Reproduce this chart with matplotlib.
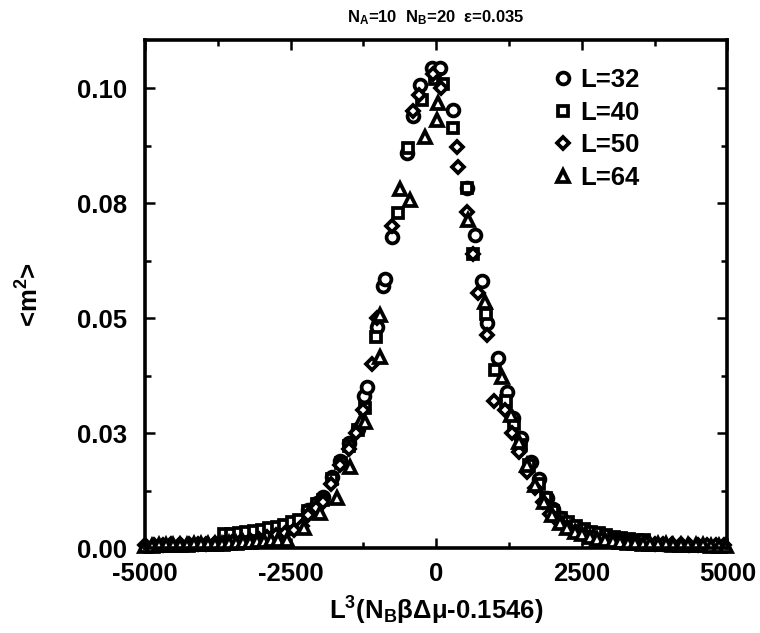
import numpy as np
import matplotlib
matplotlib.use("Agg")
import matplotlib.pyplot as plt

plt.rcParams['font.family'] = ['Liberation Sans', 'DejaVu Sans']
plt.rcParams['font.weight'] = 'bold'
plt.rcParams['axes.labelweight'] = 'bold'
plt.rcParams['axes.titleweight'] = 'bold'
plt.rcParams['axes.unicode_minus'] = False
plt.rcParams['mathtext.fontset'] = 'custom'
plt.rcParams['mathtext.rm'] = 'Liberation Sans:bold'
plt.rcParams['mathtext.bf'] = 'Liberation Sans:bold'
plt.rcParams['mathtext.default'] = 'bf'

# L=32 (circles)
x32 = [-3500, -3350, -3200, -3050, -2900, -2750, -2600, -2450, -2350, -2200,
       -2050, -1940, -1790, -1650, -1490, -1350, -1240, -1190, -1020, -910,
       -880, -760, -500, -400, -275, -70, 70, 290, 530, 670,
       790, 870, 1060, 1220, 1320, 1450, 1620, 1760, 1900, 2010,
       2150, 2300, 2450, 2600, 2750, 2900, 3050, 3200, 3350, 3500]
y32 = [0.0020, 0.0022, 0.0025, 0.0028, 0.0032, 0.0038, 0.0045, 0.0053, 0.0060, 0.0083,
       0.0098, 0.0112, 0.0154, 0.0190, 0.0228, 0.0258, 0.0330, 0.0350, 0.0480, 0.0570,
       0.0585, 0.0676, 0.0860, 0.0940, 0.1006, 0.1043, 0.1043, 0.0952, 0.0783, 0.0680,
       0.0580, 0.0490, 0.0413, 0.0340, 0.0283, 0.0240, 0.0187, 0.0150, 0.0110, 0.0085,
       0.0065, 0.0050, 0.0042, 0.0035, 0.0030, 0.0026, 0.0023, 0.0020, 0.0018, 0.0016]

# L=40 (squares)
x40 = [-3650, -3520, -3390, -3260, -3130, -3000, -2870, -2740, -2610, -2480,
       -2350, -2200, -2050, -1940, -1790, -1640, -1500, -1350, -1230, -1030,
       -650, -490, -240, -20, 120, 290, 530, 640, 850, 1010,
       1200, 1340, 1460, 1600, 1760, 1880, 2010, 2140, 2270, 2400,
       2530, 2660, 2790, 2920, 3050, 3180, 3310, 3440, 3570]
y40 = [0.0030, 0.0031, 0.0033, 0.0035, 0.0037, 0.0040, 0.0043, 0.0047, 0.0051, 0.0056,
       0.0062, 0.0080, 0.0095, 0.0105, 0.0150, 0.0185, 0.0222, 0.0256, 0.0305, 0.0460,
       0.0728, 0.0870, 0.0974, 0.1020, 0.1010, 0.0913, 0.0783, 0.0640, 0.0510, 0.0387,
       0.0320, 0.0270, 0.0225, 0.0180, 0.0140, 0.0110, 0.0080, 0.0066, 0.0056, 0.0048,
       0.0042, 0.0036, 0.0032, 0.0028, 0.0025, 0.0022, 0.0020, 0.0018, 0.0017]

# L=50 (diamonds)
x50 = [-5000, -4850, -4700, -4550, -4400, -4250, -4100, -3950, -3800, -3650,
       -3500, -3350, -3200, -3050, -2900, -2750, -2600, -2450, -2300, -2200,
       -2060, -1940, -1800, -1650, -1500, -1380, -1250, -1110, -1020, -760,
       -400, -290, -60, 90, 360, 380, 530, 640, 720, 880,
       1000, 1180, 1300, 1420, 1560, 1700, 1830, 1960, 2100, 2250,
       2400, 2550, 2700, 2850, 3000, 3150, 3300, 3450, 3600, 3750,
       3900, 4050, 4200, 4350, 4500, 4650, 4800, 4950]
y50 = [0.0006, 0.0007, 0.0007, 0.0008, 0.0008, 0.0009, 0.0010, 0.0010, 0.0011, 0.0012,
       0.0014, 0.0016, 0.0018, 0.0021, 0.0024, 0.0028, 0.0033, 0.0040, 0.0048, 0.0072,
       0.0088, 0.0100, 0.0140, 0.0180, 0.0215, 0.0250, 0.0300, 0.0400, 0.0500, 0.0700,
       0.0950, 0.0985, 0.1030, 0.1000, 0.0872, 0.0828, 0.0730, 0.0640, 0.0554, 0.0463,
       0.0320, 0.0300, 0.0250, 0.0210, 0.0165, 0.0130, 0.0100, 0.0075, 0.0058, 0.0045,
       0.0036, 0.0029, 0.0024, 0.0020, 0.0017, 0.0015, 0.0013, 0.0012, 0.0011, 0.0010,
       0.0009, 0.0008, 0.0008, 0.0007, 0.0007, 0.0006, 0.0006, 0.0006]

# L=64 (triangles)
x64 = [-5000, -4880, -4760, -4640, -4520, -4400, -4280, -4160, -4040, -3920,
       -3800, -3680, -3560, -3440, -3320, -3200, -3080, -2960, -2840, -2720,
       -2560, -2280, -1990, -1700, -1480, -1300, -1220, -960, -960, -620,
       -450, -190, 25, 20, 550, 840, 1130, 1280, 1420, 1560,
       1700, 1850, 1990, 2120, 2250, 2380, 2510, 2640, 2770, 2900,
       3030, 3160, 3290, 3420, 3550, 3680, 3810, 3940, 4070, 4200,
       4330, 4460, 4590, 4720, 4850, 4980]
y64 = [0.0005, 0.0005, 0.0006, 0.0006, 0.0006, 0.0007, 0.0007, 0.0008, 0.0008, 0.0009,
       0.0009, 0.0010, 0.0011, 0.0012, 0.0013, 0.0014, 0.0015, 0.0016, 0.0017, 0.0017,
       0.0017, 0.0043, 0.0076, 0.0109, 0.0176, 0.0276, 0.0274, 0.0415, 0.0506, 0.0780,
       0.0757, 0.0893, 0.0967, 0.0930, 0.0713, 0.0535, 0.0372, 0.0290, 0.0230, 0.0180,
       0.0138, 0.0100, 0.0072, 0.0055, 0.0044, 0.0036, 0.0030, 0.0025, 0.0021, 0.0018,
       0.0016, 0.0014, 0.0012, 0.0011, 0.0010, 0.0009, 0.0008, 0.0008, 0.0007, 0.0007,
       0.0006, 0.0006, 0.0006, 0.0005, 0.0005, 0.0005]

fig = plt.figure(figsize=(7.6, 6.33), dpi=100)
ax = fig.add_axes([0.191, 0.134, 0.766, 0.803])

style = dict(ls='none', mfc='white', mec='black', color='black', mew=2.7, clip_on=False)
ax.plot(x32, y32, marker='o', ms=8.5, label='L=32', **style)
ax.plot(x40, y40, marker='s', ms=7, label='L=40', **style)
ax.plot(x50, y50, marker='D', ms=6.5, label='L=50', **style)
ax.plot(x64, y64, marker='^', ms=8.5, label='L=64', **style)

ax.set_xlim(-5000, 5000)
ax.set_ylim(0, 0.1105)
ax.set_xticks([-5000, -2500, 0, 2500, 5000])
ax.set_xticks([-3750, -1250, 1250, 3750], minor=True)
ax.set_yticks([0, 0.025, 0.05, 0.075, 0.1])
ax.set_yticklabels(['0.00', '0.03', '0.05', '0.08', '0.10'])
ax.set_yticks([0.0125, 0.0375, 0.0625, 0.0875], minor=True)
ax.tick_params(which='both', direction='in', top=True, right=True, labelsize=18.5, width=1.8)
ax.tick_params(which='major', length=7)
ax.tick_params(which='minor', length=4)
ax.tick_params(axis='y', which='major', pad=13)
ax.tick_params(axis='x', which='major', pad=10)
for s in ax.spines.values():
    s.set_linewidth(2.6)

ax.set_xlabel('L$^3$(N$_B$βΔμ-0.1546)', fontsize=18.5, va='top')
ax.xaxis.set_label_coords(0.5, -0.092)
ax.set_ylabel('<m$^2$>', fontsize=18.5)
ax.yaxis.set_label_coords(-0.175, 0.5)
ax.set_title('N$_A$=10  N$_B$=20  ε=0.035', fontsize=12, pad=13)

ax.legend(loc='upper right', bbox_to_anchor=(0.85, 0.945), frameon=False, fontsize=18.5,
          handletextpad=0.1, labelspacing=0.34, handlelength=1.2, borderpad=0,
          borderaxespad=0)

fig.savefig('out.png', dpi=100)
